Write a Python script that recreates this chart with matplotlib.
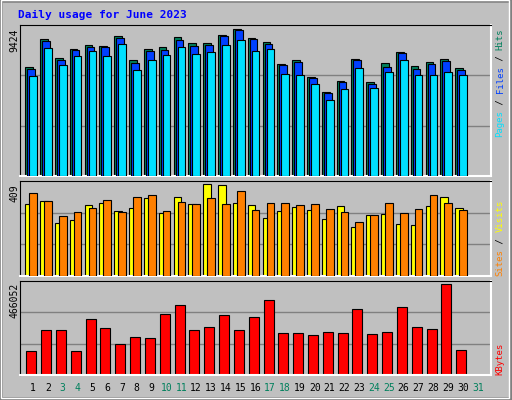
import matplotlib
matplotlib.use("Agg")
import matplotlib.pyplot as plt
from matplotlib.patches import Rectangle

days = list(range(1, 31))
hits = [6983, 8782, 7561, 8139, 8396, 8332, 8974, 7432, 8139, 8268, 8910, 8525, 8525, 9039, 9424,
        8846, 8589, 7175, 7432, 6340, 5376, 6083, 7497, 6019, 7240, 7946, 7047, 7304, 7497, 6918]
files = [6854, 8653, 7432, 8053, 8268, 8268, 8846, 7239, 8011, 8075, 8717, 8332, 8396, 8974, 9360,
         8782, 8460, 7111, 7304, 6276, 5312, 6019, 7432, 5890, 6982, 7882, 6854, 7175, 7368, 6790]
pages = [6404, 8203, 7111, 7689, 8011, 7689, 8460, 6790, 7432, 7753, 8268, 7818, 7946, 8396, 8717,
         8011, 8139, 6533, 6468, 5890, 4862, 5569, 6918, 5633, 6661, 7432, 6468, 6468, 6661, 6468]
sites = [320, 333, 236, 249, 316, 325, 289, 302, 347, 280, 351, 320, 409, 405, 325,
         316, 258, 289, 307, 293, 253, 311, 218, 271, 276, 231, 227, 311, 351, 302]
visits = [369, 333, 267, 285, 302, 338, 285, 351, 360, 289, 329, 320, 347, 320, 378,
          293, 325, 325, 316, 320, 298, 285, 240, 271, 325, 280, 298, 360, 325, 293]
kbytes = [124000, 231000, 231000, 124000, 287000, 242000, 160000, 196000, 190000, 313000,
          359000, 231000, 247000, 308000, 231000, 298000, 384000, 216000, 216000, 206000,
          221000, 216000, 339000, 211000, 221000, 349000, 247000, 236000, 466052, 129000]
weekend = [3, 4, 10, 11, 17, 18, 24, 25, 31]

W, H = 512, 400
BG = "#c0c0c0"
fig = plt.figure(figsize=(W / 100, H / 100), dpi=100, facecolor=BG)
mono = "DejaVu Sans Mono"

# outer bevel
fig.add_artist(Rectangle((0, 0), 1, 1, transform=fig.transFigure, fill=False,
                         edgecolor="#808080", lw=4))
fig.add_artist(Rectangle((0.001, 0.005), 0.994, 0.994, transform=fig.transFigure, fill=False,
                         edgecolor="white", lw=1))

def panel(top, bottom):
    ax = fig.add_axes([20 / W, 1 - bottom / H, (491 - 20) / W, (bottom - top) / H])
    ax.set_facecolor(BG)
    ax.set_xlim(0.123, 31.89)
    for s in ("left", "top"):
        ax.spines[s].set_color("black")
    for s in ("right", "bottom"):
        ax.spines[s].set_color("white")
        ax.spines[s].set_linewidth(1.5)
    ax.set_xticks([])
    ax.set_yticks([])
    return ax

def grid(ax, ymax):
    for f in (1 / 3, 2 / 3):
        ax.axhline(ymax * f, color="#808080", lw=1, zorder=0)

px = 1 / 14.83  # one pixel in day units

ax1 = panel(25, 176)
ymax1 = max(hits) * 151 / 147
ax1.set_ylim(0, ymax1)
grid(ax1, ymax1)
ax1.bar([d - 7.7 * px for d in days], hits, width=7.7 * px, align="edge",
        color="#00805c", edgecolor="black", lw=0.8, zorder=2)
ax1.bar([d - 5.7 * px for d in days], files, width=7.7 * px, align="edge",
        color="#0040ff", edgecolor="black", lw=0.8, zorder=3)
ax1.bar([d - 3.7 * px for d in days], pages, width=7.7 * px, align="edge",
        color="#00e0ff", edgecolor="black", lw=0.8, zorder=4)

ax2 = panel(181, 276)
ymax2 = max(sites) * 95 / 92
ax2.set_ylim(0, ymax2)
grid(ax2, ymax2)
ax2.bar([d - 7.7 * px for d in days], sites, width=7.7 * px, align="edge",
        color="#ffff00", edgecolor="black", lw=0.8, zorder=2)
ax2.bar([d - 3.7 * px for d in days], visits, width=7.7 * px, align="edge",
        color="#ff8000", edgecolor="black", lw=0.8, zorder=3)

ax3 = panel(281, 375)
ymax3 = max(kbytes) * 94 / 91
ax3.set_ylim(0, ymax3)
grid(ax3, ymax3)
ax3.bar([d - 6.7 * px for d in days], kbytes, width=10 * px, align="edge",
        color="#ff0000", edgecolor="black", lw=0.8, zorder=2)

# day labels
for d in range(1, 32):
    ax3.text(d, -0.14, str(d), transform=ax3.get_xaxis_transform(), ha="center", va="center",
             fontsize=7, family=mono, color="#00805c" if d in weekend else "black")

fig.text(18 / W, 1 - 15 / H, "Daily usage for June 2023", color="#0000ff", fontsize=8,
         family=mono, weight="bold", va="center")

def vlabel(x, y_top, text):
    fig.text(x / W, 1 - y_top / H, text, rotation=90, ha="center", va="top",
             fontsize=7, family=mono, color="black")

vlabel(14, 28, "9424")
vlabel(14, 184, "409")
vlabel(14, 283, "466052")

def stacked(x, y_bottom, parts):
    ch = 5.45
    y = y_bottom
    for txt, col in parts:
        fig.text(x / W, 1 - y / H, txt, rotation=90, ha="center", va="bottom",
                 fontsize=6.5, family=mono, color=col)
        y -= len(txt) * ch

stacked(500, 137, [("Pages", "#00e0ff"), (" / ", "black"), ("Files", "#0040ff"),
                   (" / ", "black"), ("Hits", "#00805c")])
stacked(500, 276, [("Sites", "#ff8000"), (" / ", "black"), ("Visits", "#ffff00")])
stacked(500, 375, [("KBytes", "#ff0000")])

fig.savefig("out.png", dpi=100, facecolor=BG)
